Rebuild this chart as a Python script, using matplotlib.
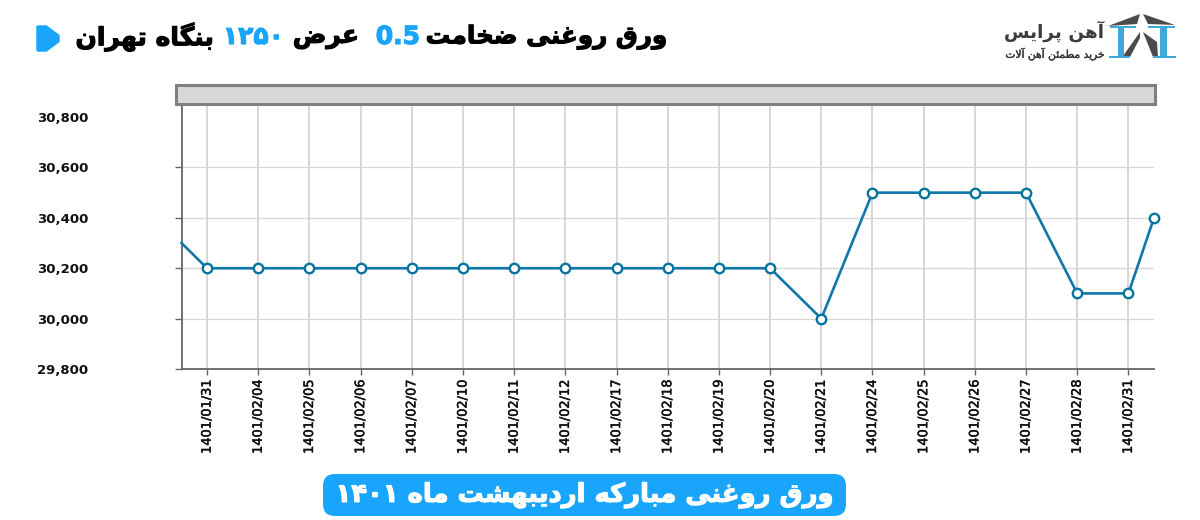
#!/usr/bin/env python3
# -*- coding: utf-8 -*-
import matplotlib
matplotlib.use("Agg")
import matplotlib.pyplot as plt
import matplotlib.patheffects as pe
from matplotlib.patches import FancyBboxPatch, Polygon, Rectangle

dates = ["1401/01/31", "1401/02/04", "1401/02/05", "1401/02/06", "1401/02/07",
         "1401/02/10", "1401/02/11", "1401/02/12", "1401/02/17", "1401/02/18",
         "1401/02/19", "1401/02/20", "1401/02/21", "1401/02/24", "1401/02/25",
         "1401/02/26", "1401/02/27", "1401/02/28", "1401/02/31"]
prices = [30200, 30200, 30200, 30200, 30200, 30200, 30200, 30200, 30200, 30200,
          30200, 30200, 30000, 30500, 30500, 30500, 30500, 30100, 30100]
# the line enters and leaves at the edges of the plot
price_left_edge = 30300
price_right_edge = 30400
y_ticks = [29800, 30000, 30200, 30400, 30600, 30800]

title_parts = [("ورق روغنی ضخامت", "#000000", 668, 17.7),
               ("0.5", "#18a5fb", 420, 18),
               ("عرض", "#000000", 359, 18),
               ("۱۲۵۰", "#18a5fb", 284, 18),
               ("بنگاه تهران", "#000000", 214, 18)]
caption = "ورق روغنی مبارکه اردیبهشت ماه ۱۴۰۱"
logo_name = "آهن پرایس"
logo_slogan = "خرید مطمئن آهن آلات"

# matplotlib does not shape arabic script, so pick the joined glyphs by hand
# letter -> isolated, final, initial, medial
FORMS = {}
for ch, start in {"ب": 0xFE8F, "پ": 0xFB56, "ت": 0xFE95, "خ": 0xFEA5, "س": 0xFEB1,
                  "ش": 0xFEB5, "ض": 0xFEBD, "ط": 0xFEC1, "ع": 0xFEC9, "غ": 0xFECD,
                  "ق": 0xFED5, "ک": 0xFB8E, "گ": 0xFB92, "ل": 0xFEDD, "م": 0xFEE1,
                  "ن": 0xFEE5, "ه": 0xFEE9, "ی": 0xFBFC, "ئ": 0xFE89}.items():
    FORMS[ch] = [chr(start + i) for i in range(4)]
for ch, start in {"ا": 0xFE8D, "آ": 0xFE81, "د": 0xFEA9, "ر": 0xFEAD, "و": 0xFEED}.items():
    FORMS[ch] = [chr(start), chr(start + 1), chr(start), chr(start + 1)]
NO_NEXT = "اآدرو"
SLOT = {(0, 0): 0, (1, 0): 1, (0, 1): 2, (1, 1): 3}


def shape(text):
    out = []
    i = 0
    while i < len(text):
        ch = text[i]
        if ch not in FORMS:
            out.append(ch)
            i += 1
            continue
        prev = text[i - 1] if i > 0 else " "
        joined = prev in FORMS and prev not in NO_NEXT
        nxt = text[i + 1] if i + 1 < len(text) else " "
        if ch == "ل" and nxt == "ا":
            out.append("\uFEFC" if joined else "\uFEFB")
            i += 2
            continue
        forward = nxt in FORMS and ch not in NO_NEXT
        out.append(FORMS[ch][SLOT[(int(joined), int(forward))]])
        i += 1
    # digits and latin keep reading left to right
    runs = []
    for c in out:
        if c.isascii() and c != " " or c in "۰۱۲۳۴۵۶۷۸۹":
            if runs and runs[-1][0]:
                runs[-1][1].append(c)
            else:
                runs.append((True, [c]))
        else:
            runs.append((False, [c]))
    return "".join("".join(r[1]) for r in reversed(runs))


def plotting():
    fig = plt.figure(figsize=(12, 5.2), dpi=100)
    ax = fig.add_axes([181.5 / 1200, 1 - 369 / 520, (1154 - 181.5) / 1200, 264 / 520])

    x = list(range(len(dates)))
    ax.plot([-0.5] + x + [18.5], [price_left_edge] + prices + [price_right_edge],
            color="#0f78a8", lw=1.9, zorder=3, clip_on=False)
    ax.plot(x + [18.5], prices + [price_right_edge], ls="none", marker="o", ms=6.8,
            mfc="white", mec="#06749c", mew=1.7, zorder=4, clip_on=False)

    ax.set_xlim(-0.5, 18.5)
    ax.set_ylim(29800, 30848)
    ax.set_xticks(x)
    ax.set_xticklabels(dates, rotation=90, fontsize=9.3, color="#111111",
                       path_effects=[pe.withStroke(linewidth=0.35, foreground="#111111")])
    ax.set_yticks(y_ticks)
    ax.set_yticklabels([f"{v:,}" for v in y_ticks], fontsize=9.5, fontweight="bold", color="#111111")
    ax.tick_params(axis="y", length=5, width=1, color="#666666", pad=62)
    ax.tick_params(axis="x", length=4, width=1, color="#666666", pad=3.5)
    ax.grid(True, axis="x", color="#d0cfd2", lw=1.2)
    ax.grid(True, axis="y", color="#d6d5d8", lw=0.9)
    ax.set_axisbelow(True)
    # the top label has neither tick nor grid line
    top_tick = ax.yaxis.get_major_ticks()[-1]
    top_tick.tick1line.set_visible(False)
    top_tick.gridline.set_visible(False)
    for side in ["top", "right"]:
        ax.spines[side].set_visible(False)
    for side in ["left", "bottom"]:
        ax.spines[side].set_color("#666666")
        ax.spines[side].set_linewidth(1.3)

    # header, logo and caption are placed in image pixels
    over = fig.add_axes([0, 0, 1, 1], facecolor="none")
    over.set_xlim(0, 1200)
    over.set_ylim(520, 0)
    over.axis("off")

    over.add_patch(Rectangle((175.5, 85), 979, 19, fc="#d8d7da", ec="#808080", lw=2.2))

    for text, color, right, size in title_parts:
        over.text(right, 37, shape(text), color=color, ha="right", va="center",
                  fontsize=size, fontweight="bold",
                  path_effects=[pe.withStroke(linewidth=0.8, foreground=color)])
    over.add_patch(Polygon([(38, 27), (46, 27), (58, 36), (58, 41), (46, 50), (38, 50)],
                           closed=True, fc="#18a5fb", ec="#18a5fb", lw=2.5, joinstyle="round"))

    # logo
    dark = "#4b4b4d"
    blue = "#3fa9dc"
    for pts in [[(1108, 26), (1140, 14), (1137, 24)], [(1143, 14), (1175, 25), (1148, 24)],
                [(1123, 56), (1140, 32), (1140, 38), (1130, 57)],
                [(1143, 32), (1157, 42), (1158, 57), (1153, 57)]]:
        over.add_patch(Polygon(pts, closed=True, fc=dark, ec="none"))
    for rx, ry, rw, rh in [(1110, 26, 26, 2), (1118, 27, 6, 30), (1109, 56, 21, 2),
                           (1148, 26, 27, 2), (1160, 27, 7, 30), (1153, 56, 23, 2)]:
        over.add_patch(Rectangle((rx, ry), rw, rh, fc=blue, ec="none"))
    over.text(1104, 31, shape(logo_name), color="#3c3c3e", ha="right", va="center",
              fontsize=13.3, fontweight="bold")
    over.text(1104, 54, shape(logo_slogan), color="#3c3c3e", ha="right", va="center", fontsize=7.7,
              path_effects=[pe.withStroke(linewidth=0.3, foreground="#3c3c3e")])

    # caption
    over.add_patch(FancyBboxPatch((323, 474), 523, 42, boxstyle="round,pad=0,rounding_size=12",
                                  fc="#18a5fb", ec="none"))
    over.text(585, 495, shape(caption), color="white", ha="center", va="center",
              fontsize=18.6, fontweight="bold",
              path_effects=[pe.withStroke(linewidth=0.8, foreground="white")])

    fig.savefig("out.png", dpi=100)


if __name__ == "__main__":
    plotting()
